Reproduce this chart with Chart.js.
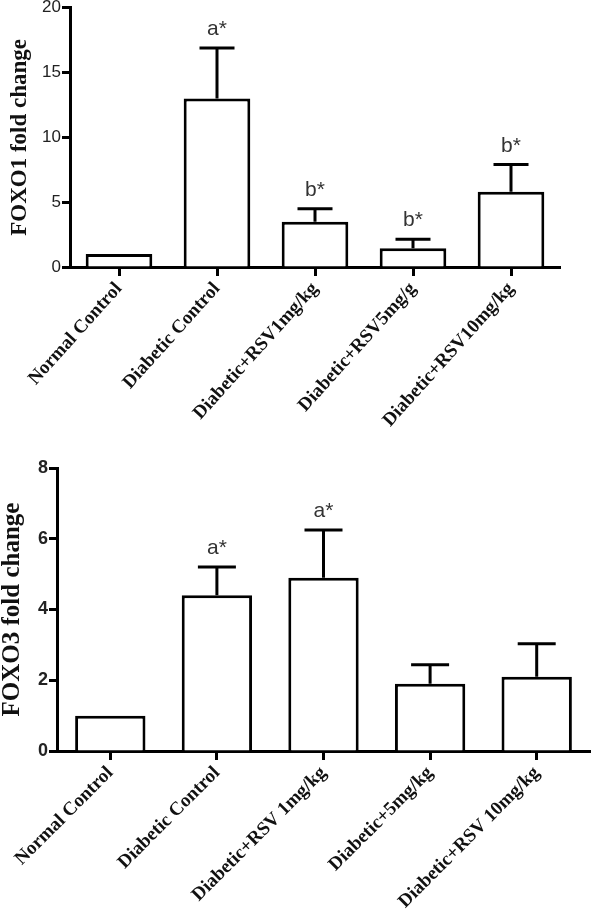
<!DOCTYPE html>
<html>
<head>
<meta charset="utf-8">
<script src="https://cdn.jsdelivr.net/npm/chart.js@4.4.1/dist/chart.umd.min.js"></script>
<style>
  html, body { margin: 0; padding: 0; background: #fff; }
  body { width: 592px; height: 916px; position: relative; overflow: hidden; }
  .box { position: absolute; left: 0; width: 592px; }
  #top { top: 0; height: 440px; }
  #bottom { top: 440px; height: 476px; }
</style>
</head>
<body>
<div class="box" id="top"><canvas id="foxo1"></canvas></div>
<div class="box" id="bottom"><canvas id="foxo3"></canvas></div>
<script>
// FOXO1 panel
const foxo1Labels = ["Normal Control", "Diabetic Control", "Diabetic+RSV1mg/kg", "Diabetic+RSV5mg/g", "Diabetic+RSV10mg/kg"];
const foxo1Means = [1, 13, 3.5, 1.45, 5.8];
const foxo1Errors = [0, 3.9, 1.0, 0.7, 2.1];
const foxo1Marks = ["", "a*", "b*", "b*", "b*"];
const foxo1Ticks = [0, 5, 10, 15, 20];

// FOXO3 panel
const foxo3Labels = ["Normal Control", "Diabetic Control", "Diabetic+RSV 1mg/kg", "Diabetic+5mg/kg", "Diabetic+RSV 10mg/kg"];
const foxo3Means = [1, 4.4, 4.9, 1.9, 2.1];
const foxo3Errors = [0, 0.8, 1.35, 0.54, 0.93];
const foxo3Marks = ["", "a*", "a*", "", ""];
const foxo3Ticks = [0, 2, 4, 6, 8];

// SD bars (upper only) + significance letters
const errorBars = {
    id: "errorBars",
    afterDatasetsDraw(chart, args, opts) {
        const ctx = chart.ctx;
        const y = chart.scales.y;
        const means = chart.data.datasets[0].data;
        const meta = chart.getDatasetMeta(0);
        ctx.save();
        ctx.strokeStyle = "#000";
        ctx.lineWidth = 3;
        ctx.fillStyle = "#333";
        ctx.font = "21px Arial, 'Liberation Sans', sans-serif";
        ctx.textAlign = "center";
        ctx.textBaseline = "bottom";
        meta.data.forEach((bar, i) => {
            const err = opts.errors[i];
            const top = y.getPixelForValue(means[i] + err);
            if (err > 0) {
                ctx.beginPath();
                ctx.moveTo(bar.x, bar.y);
                ctx.lineTo(bar.x, top);
                ctx.moveTo(bar.x - opts.cap / 2, top);
                ctx.lineTo(bar.x + opts.cap / 2, top);
                ctx.stroke();
            }
            if (opts.marks[i]) {
                ctx.fillText(opts.marks[i], bar.x, top - opts.gap);
            }
        });
        ctx.restore();
    }
};

function makeChart(id, o) {
    return new Chart(document.getElementById(id), {
        type: "bar",
        data: {
            labels: o.labels,
            datasets: [{
                data: o.means,
                backgroundColor: "#fff",
                borderColor: "#000",
                borderWidth: 3,
                barPercentage: o.barPct,
                categoryPercentage: 1
            }]
        },
        options: {
            responsive: true,
            maintainAspectRatio: false,
            animation: false,
            layout: { padding: o.padding },
            plugins: {
                legend: { display: false },
                tooltip: { enabled: false },
                errorBars: { errors: o.errors, marks: o.marks, cap: o.cap, gap: 8 }
            },
            scales: {
                x: {
                    offset: true,
                    border: { color: "#000", width: 3 },
                    grid: {
                        offset: false,
                        drawOnChartArea: false,
                        drawTicks: true,
                        tickLength: 9,
                        tickWidth: 3,
                        tickColor: "#000"
                    },
                    ticks: {
                        autoSkip: false,
                        minRotation: o.rot,
                        maxRotation: o.rot,
                        color: "#111",
                        padding: 2,
                        font: { family: "'Liberation Serif', 'Times New Roman', serif", size: o.xFont, weight: "bold" }
                    },
                    afterFit(scale) { scale.height = o.xHeight; }
                },
                y: {
                    min: 0,
                    max: o.ticks[o.ticks.length - 1],
                    afterBuildTicks(scale) { scale.ticks = o.ticks.map(v => ({ value: v })); },
                    border: { color: "#000", width: 3 },
                    grid: {
                        drawOnChartArea: false,
                        drawTicks: true,
                        tickLength: 8,
                        tickWidth: 3,
                        tickColor: "#000"
                    },
                    ticks: {
                        color: "#222",
                        padding: 1,
                        font: { family: "Arial, 'Liberation Sans', sans-serif", size: o.yFont, weight: o.yWeight, lineHeight: 0.8 }
                    },
                    title: {
                        display: true,
                        text: o.title,
                        color: "#111",
                        padding: { top: o.titlePad, bottom: 0 },
                        font: { family: "'Liberation Serif', 'Times New Roman', serif", size: o.titleFont, weight: "bold", lineHeight: 1 }
                    },
                    afterFit(scale) { scale.width = o.yWidth; }
                }
            }
        },
        plugins: [errorBars]
    });
}

makeChart("foxo1", {
    labels: foxo1Labels, means: foxo1Means, errors: foxo1Errors, marks: foxo1Marks, ticks: foxo1Ticks,
    title: "FOXO1 fold change", titleFont: 23, titlePad: 9,
    yFont: 17, yWeight: "normal", xFont: 19, rot: 48,
    yWidth: 70, xHeight: 173, barPct: 0.68, cap: 35,
    padding: { top: 7, right: 32, left: 0, bottom: 0 }
});

makeChart("foxo3", {
    labels: foxo3Labels, means: foxo3Means, errors: foxo3Errors, marks: foxo3Marks, ticks: foxo3Ticks,
    title: "FOXO3 fold change", titleFont: 25, titlePad: 0,
    yFont: 18, yWeight: "bold", xFont: 19, rot: 45,
    yWidth: 57, xHeight: 165, barPct: 0.66, cap: 38,
    padding: { top: 28, right: 2, left: 0, bottom: 0 }
});
</script>
</body>
</html>
